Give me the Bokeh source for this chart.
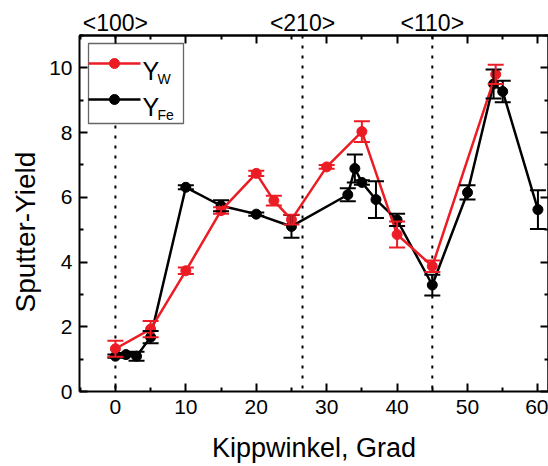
from bokeh.plotting import figure
from bokeh.models import (Range1d, LinearAxis, FixedTicker, Span, Whisker, TeeHead,
                          ColumnDataSource, Title)
from bokeh.core.properties import value
from bokeh.embed import file_html
from bokeh.resources import INLINE

# Sputter yield of W versus tilt angle (degrees), with error bars
angle_w = [0, 5, 10, 15, 20, 22.5, 25, 30, 35, 40, 45, 54]
yield_w = [1.32, 1.93, 3.73, 5.59, 6.74, 5.90, 5.31, 6.94, 8.03, 4.85, 3.87, 9.80]
err_w = [0.25, 0.25, 0.10, 0.10, 0.08, 0.15, 0.15, 0.06, 0.32, 0.40, 0.18, 0.30]

# Sputter yield of Fe versus tilt angle (degrees), with error bars
angle_fe = [0, 1.5, 3, 5, 10, 15, 20, 25, 33, 34, 35, 37, 40, 45, 50, 53.7, 55, 60]
yield_fe = [1.09, 1.14, 1.09, 1.68, 6.31, 5.74, 5.48, 5.10, 6.08, 6.89, 6.46, 5.93,
            5.30, 3.29, 6.15, 9.50, 9.27, 5.62]
err_fe = [0.05, 0.05, 0.14, 0.19, 0.06, 0.17, 0.05, 0.35, 0.20, 0.43, 0.07, 0.57,
          0.19, 0.32, 0.22, 0.45, 0.33, 0.60]

# Crystal directions marked along the top edge
direction_angles = [0, 26.57, 45]
direction_labels = ["<100>", "<210>", "<110>"]

x_major = [0, 10, 20, 30, 40, 50, 60]
x_minor = [-5, 5, 15, 25, 35, 45, 55]
y_major = [0, 2, 4, 6, 8, 10]
y_minor = [1, 3, 5, 7, 9, 11]

FONT = "Liberation Sans"
RED = "#EC1C24"
X0, X1 = -5.1, 61.5
Y0, Y1 = 0, 11

# frame placement in pixels (also used for the hand-drawn legend)
F_LEFT, F_TOP, F_W, F_H = 79, 35, 469, 356


def sx(px):
    return X0 + (px - F_LEFT) / F_W * (X1 - X0)


def sy(py):
    return Y1 - (py - F_TOP) / F_H * (Y1 - Y0)


p = figure(width=548, height=466, x_range=Range1d(X0, X1), y_range=Range1d(Y0, Y1),
           output_backend="svg", toolbar_location=None,
           min_border_left=F_LEFT, min_border_right=0, min_border_top=F_TOP,
           min_border_bottom=466 - F_TOP - F_H)
p.xgrid.visible = False
p.ygrid.visible = False
p.outline_line_color = None
p.background_fill_color = "white"
p.border_fill_color = "white"


def style_ticks(ax):
    ax.axis_line_width = 2
    ax.axis_line_color = "black"
    ax.major_tick_in = 8
    ax.major_tick_out = 0
    ax.minor_tick_in = 4
    ax.minor_tick_out = 0
    ax.major_tick_line_width = 2
    ax.minor_tick_line_width = 2
    ax.major_tick_line_color = "black"
    ax.minor_tick_line_color = "black"


def labelled_axis(ax, major, minor):
    ax.ticker = FixedTicker(ticks=major, minor_ticks=minor)
    style_ticks(ax)
    ax.major_label_text_font = FONT
    ax.major_label_text_font_size = "21px"
    ax.major_label_text_color = "black"
    ax.major_label_standoff = 8


def bare_axes(side, major, minor):
    # tick marks only (no labels): long ticks on the major values, short on the minor
    for vals, length in [(major, 8), (minor, 4)]:
        ax = LinearAxis(ticker=FixedTicker(ticks=[], minor_ticks=vals))
        style_ticks(ax)
        ax.minor_tick_in = length
        ax.major_label_standoff = 0
        p.add_layout(ax, side)


xaxis = p.xaxis[0]
labelled_axis(xaxis, x_major, x_minor)
xaxis.axis_label = "Kippwinkel, Grad"
xaxis.axis_label_text_font = FONT
xaxis.axis_label_text_font_size = "27px"
xaxis.axis_label_text_font_style = "normal"
xaxis.axis_label_text_color = "black"
xaxis.axis_label_standoff = 16

yaxis = p.yaxis[0]
labelled_axis(yaxis, y_major, y_minor)
yaxis.major_label_standoff = 7

bare_axes("above", x_major, x_minor)
bare_axes("right", y_major, y_minor)

top_labels = LinearAxis(ticker=FixedTicker(ticks=direction_angles),
                        major_label_overrides=dict(zip(direction_angles, direction_labels)),
                        axis_line_color=None, major_tick_line_color=None,
                        minor_tick_line_color=None, major_tick_out=0, major_tick_in=0,
                        major_label_standoff=0,
                        major_label_text_font=FONT, major_label_text_font_size="23px",
                        major_label_text_color="black")
p.add_layout(top_labels, "above")

p.add_layout(Title(text="Sputter-Yield", align="left", offset=79, standoff=12,
                   text_font=FONT, text_font_size="28px", text_font_style="normal",
                   text_color="black"), "left")

# dotted markers for the crystal directions
for a in direction_angles:
    p.add_layout(Span(location=a, dimension="height", line_color="black", line_width=2,
                      line_dash="3 7", level="underlay"))


def series(angles, yields, errs, color):
    src = ColumnDataSource(dict(x=angles, y=yields,
                                lo=[v - e for v, e in zip(yields, errs)],
                                hi=[v + e for v, e in zip(yields, errs)]))
    p.line("x", "y", source=src, line_color=color, line_width=2.5)
    p.add_layout(Whisker(source=src, base="x", lower="lo", upper="hi",
                         line_color=color, line_width=2, level="glyph",
                         upper_head=TeeHead(size=16, line_color=color, line_width=2),
                         lower_head=TeeHead(size=16, line_color=color, line_width=2)))
    p.scatter("x", "y", source=src, size=10, fill_color=color, line_color=color)


series(angle_fe, yield_fe, err_fe, "black")
series(angle_w, yield_w, err_w, RED)

# legend with subscripted labels
p.quad(left=[sx(88)], right=[sx(183)], top=[sy(43)], bottom=[sy(123)],
       fill_color="white", line_color="#666666", line_width=1.3)
for row_y, color, sub in [(63, RED, "W"), (99, "black", "Fe")]:
    p.line(x=[sx(88), sx(140)], y=[sy(row_y), sy(row_y)], line_color=color, line_width=2.5)
    p.scatter(x=[sx(114)], y=[sy(row_y)], size=10, fill_color=color, line_color=color)
    p.text(x=[sx(142)], y=[sy(row_y + 7)], text=["Y"], text_font=value(FONT),
           text_font_size="25px", text_color="black", text_baseline="alphabetic")
    p.text(x=[sx(157)], y=[sy(row_y + 15.5)], text=[sub], text_font=value(FONT),
           text_font_size="14px", text_color="black", text_baseline="alphabetic")

open("out.html", "w").write(file_html(p, INLINE))
